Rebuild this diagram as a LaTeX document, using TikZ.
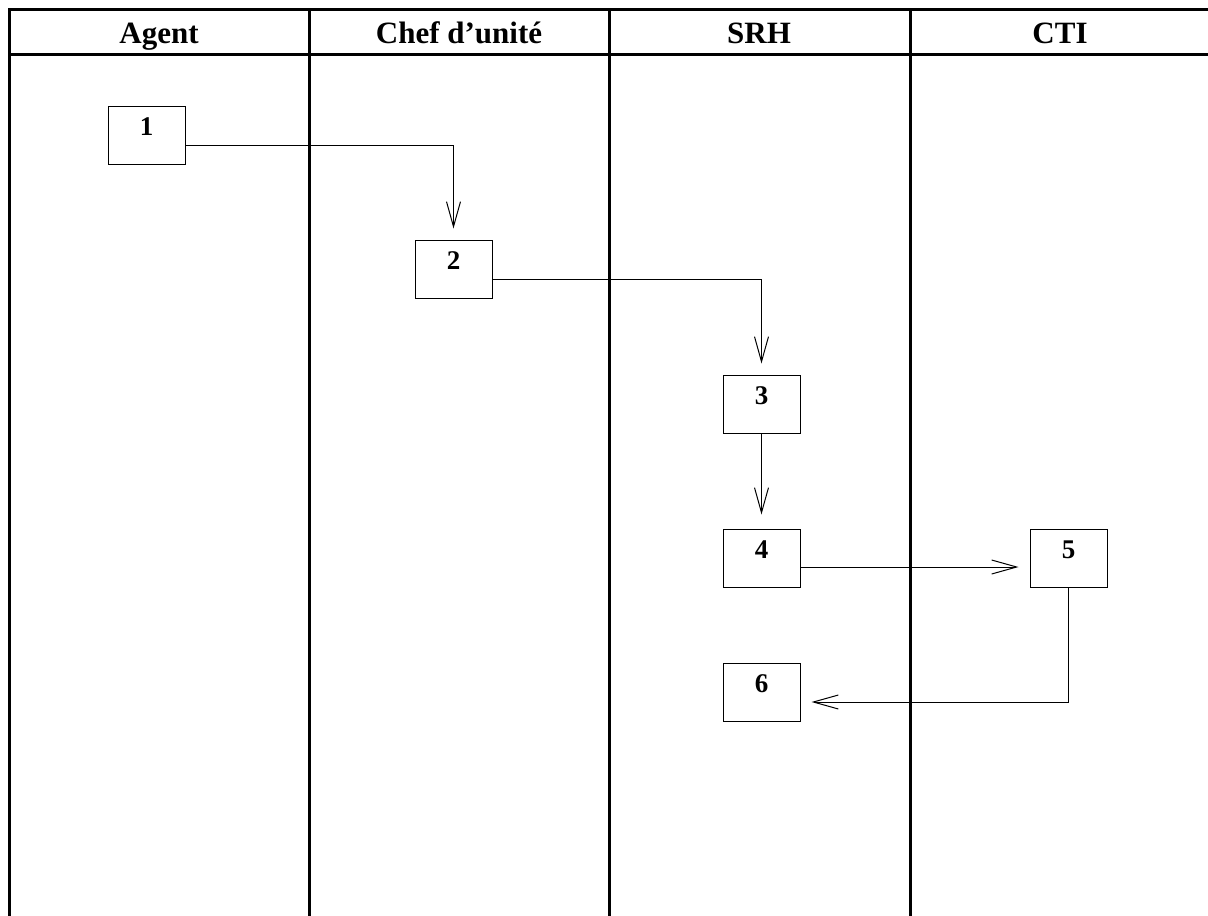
\documentclass[tikz,border=0pt]{standalone}
\usepackage{fontspec}
\setmainfont{Liberation Serif}
\usetikzlibrary{arrows.meta,positioning}

\begin{document}
\begin{tikzpicture}[x=1pt, y=-1pt,
		lane/.style={line width=3pt},
		head/.style={font=\fontsize{31}{31}\selectfont\bfseries, anchor=base},
		flow/.style={line width=1pt, -{Straight Barb[length=25pt,width=14pt]}, shorten >=11pt}]
		\useasboundingbox (0,0) rectangle (1208,916);
		% swimlane table
		\draw[lane] (1212,9) -- (9,9) -- (9,918);
		\draw[lane] (9,54) -- (1212,54);
		\foreach \x in {309,609,910}
			\draw[lane] (\x,9) -- (\x,918);
		\node[head] (agent) at (159,43) {Agent};
		\node[head] (chef) at (459,43) {Chef d’unité};
		\node[head] (srh) at (759,43) {SRH};
		\node[head] (cti) at (1060,43) {CTI};
		\begin{scope}[every node/.style={draw, line width=1pt, minimum width=77pt, minimum height=58pt,
				inner sep=0pt, text height=12pt, text depth=12pt, font=\fontsize{27}{27}\selectfont\bfseries}]
			\node (b1) at (146.5,135) {1};
			\node (b2) at (453.5,269) {2};
			\node (b3) at (761.5,404) {3};
			\node (b4) at (761.5,558) {4};
			\node (b5) at (1068.5,558) {5};
			\node (b6) at (761.5,692) {6};
		\end{scope}
		\begin{scope}
			\draw[flow] ([yshift=-10pt]b1.east) -| (b2.north);
			\draw[flow] ([yshift=-10pt]b2.east) -| (b3.north);
			\draw[flow, shorten >=14pt] (b3.south) -- (b4.north);
			\draw[flow] ([yshift=-9pt]b4.east) -- ([yshift=-9pt]b5.west);
			\draw[flow] (b5.south) |- ([yshift=-10pt]b6.east);
		\end{scope}
	\end{tikzpicture}
\end{document}
